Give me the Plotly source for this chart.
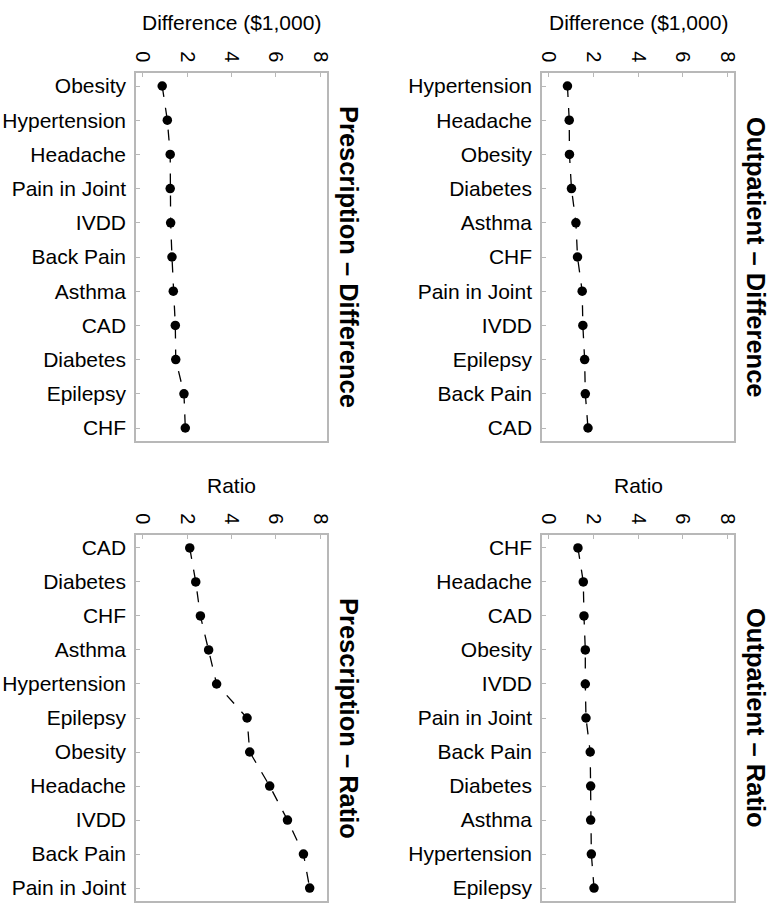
import plotly.graph_objects as go

# ---- data ----
presc_diff_cats = ["Obesity", "Hypertension", "Headache", "Pain in Joint", "IVDD", "Back Pain",
                   "Asthma", "CAD", "Diabetes", "Epilepsy", "CHF"]
presc_diff_vals = [0.88, 1.11, 1.24, 1.24, 1.26, 1.32, 1.38, 1.47, 1.49, 1.86, 1.92]

outp_diff_cats = ["Hypertension", "Headache", "Obesity", "Diabetes", "Asthma", "CHF",
                  "Pain in Joint", "IVDD", "Epilepsy", "Back Pain", "CAD"]
outp_diff_vals = [0.84, 0.92, 0.93, 1.02, 1.22, 1.29, 1.50, 1.53, 1.61, 1.64, 1.76]

presc_ratio_cats = ["CAD", "Diabetes", "CHF", "Asthma", "Hypertension", "Epilepsy",
                    "Obesity", "Headache", "IVDD", "Back Pain", "Pain in Joint"]
presc_ratio_vals = [2.12, 2.39, 2.60, 2.97, 3.33, 4.70, 4.82, 5.72, 6.52, 7.24, 7.52]

outp_ratio_cats = ["CHF", "Headache", "CAD", "Obesity", "IVDD", "Pain in Joint",
                   "Back Pain", "Diabetes", "Asthma", "Hypertension", "Epilepsy"]
outp_ratio_vals = [1.31, 1.55, 1.58, 1.64, 1.64, 1.67, 1.86, 1.88, 1.88, 1.91, 2.03]

panel_titles = ["Prescription \u2013 Difference", "Outpatient \u2013 Difference",
                "Prescription \u2013 Ratio", "Outpatient \u2013 Ratio"]
axis_titles = ["Difference ($1,000)", "Difference ($1,000)", "Ratio", "Ratio"]
x_ticks = [0, 2, 4, 6, 8]

W, H = 780, 903
FONT = "Liberation Sans, Arial, sans-serif"
FRAME = "#b8b8b8"

panels = [
    (presc_diff_cats, presc_diff_vals, (136, 327), (73, 441)),
    (outp_diff_cats, outp_diff_vals, (542, 734), (73, 441)),
    (presc_ratio_cats, presc_ratio_vals, (136, 327), (535, 901)),
    (outp_ratio_cats, outp_ratio_vals, (542, 734), (535, 901)),
]


def px(xp):
    return xp / W


def py(yp):
    return 1 - yp / H


fig = go.Figure()
annotations = []
for i, (cats, vals, (x0, x1), (y0, y1)) in enumerate(panels):
    n = i + 1
    xa = "x" if n == 1 else f"x{n}"
    ya = "y" if n == 1 else f"y{n}"
    fig.add_trace(go.Scatter(
        x=vals, y=cats, xaxis=xa, yaxis=ya, mode="lines+markers",
        line=dict(color="black", width=1.3, dash="11px,11px"),
        marker=dict(color="black", size=9.5, line=dict(width=0)),
        showlegend=False, hoverinfo="x+y"))
    xkey = "xaxis" if n == 1 else f"xaxis{n}"
    ykey = "yaxis" if n == 1 else f"yaxis{n}"
    fig.update_layout(**{
        xkey: dict(domain=[px(x0), px(x1)], range=[-0.3, 8.3], side="top",
                   anchor=ya, tickvals=x_ticks, tickangle=90, automargin=False,
                   ticks="inside", ticklen=4, tickcolor=FRAME, tickwidth=1,
                   showline=True, linecolor=FRAME, linewidth=1.5, mirror=True,
                   showgrid=False, zeroline=False, ticklabelstandoff=2,
                   tickfont=dict(family=FONT, size=20, color="black")),
        ykey: dict(domain=[py(y1), py(y0)], type="category",
                   categoryorder="array", categoryarray=cats,
                   range=[10.38, -0.38], anchor=xa, automargin=False,
                   ticks="inside", ticklen=4, tickcolor=FRAME, tickwidth=1,
                   showline=True, linecolor=FRAME, linewidth=1.5, mirror=True,
                   showgrid=False, zeroline=False, ticklabelstandoff=4,
                   tickfont=dict(family=FONT, size=21, color="black")),
    })
    annotations.append(dict(
        text=axis_titles[i], x=px((x0 + x1) / 2), y=py(y0 - 50),
        xref="paper", yref="paper", xanchor="center", yanchor="middle",
        showarrow=False, font=dict(family=FONT, size=21, color="black")))
    annotations.append(dict(
        text="<b>" + panel_titles[i] + "</b>", x=px(x1 + 22),
        y=py((y0 + y1) / 2), xref="paper", yref="paper",
        xanchor="center", yanchor="middle", textangle=90, showarrow=False,
        font=dict(family=FONT, size=25.5, color="black")))

fig.update_layout(width=W, height=H, margin=dict(l=0, r=0, t=0, b=0),
                  paper_bgcolor="white", plot_bgcolor="white",
                  annotations=annotations)
fig.write_html("out.html", config={"displayModeBar": False},
               post_script="document.body.style.margin='0px';")
